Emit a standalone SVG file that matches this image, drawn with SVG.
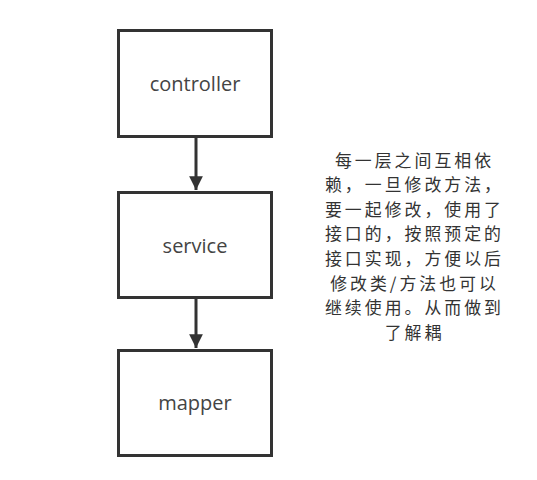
<svg xmlns="http://www.w3.org/2000/svg" width="537" height="480" viewBox="0 0 537 480">
<defs>
<style>
.box{fill:#ffffff;stroke:#333333;stroke-width:3}
.lbl{font-family:"Open Sans","Noto Sans",sans-serif;font-size:20px;fill:#444444;text-anchor:middle}
.note{font-family:"Noto Sans CJK SC","Noto Sans",sans-serif;font-size:16.9px;letter-spacing:3px;fill:#333333;text-anchor:middle}
.edge{stroke:#333333;stroke-width:3;fill:none}
</style>
<marker id="arr" viewBox="0 0 10 10" refX="10" refY="5" markerWidth="4.6" markerHeight="4.6" markerUnits="strokeWidth" orient="auto">
<path d="M0,0 L10,5 L0,10 Z" fill="#333333"/>
</marker>
</defs>
<rect width="537" height="480" fill="#ffffff"/>
<g id="connectors">
<line class="edge" x1="196" y1="137" x2="196" y2="190" marker-end="url(#arr)"/>
<line class="edge" x1="196" y1="298" x2="196" y2="348" marker-end="url(#arr)"/>
</g>
<g id="controller">
<rect class="box" x="118.5" y="30.5" width="153" height="106"/>
<text class="lbl" x="195" y="91">controller</text>
</g>
<g id="service">
<rect class="box" x="118.5" y="192.5" width="153" height="105"/>
<text class="lbl" x="195" y="253">service</text>
</g>
<g id="mapper">
<rect class="box" x="118.5" y="350.5" width="153" height="105"/>
<text class="lbl" x="195" y="410">mapper</text>
</g>
<g id="note">
<text class="note" x="414.5" y="166.5">每一层之间互相依</text>
<text class="note" x="414.5" y="191.1">赖，一旦修改方法，</text>
<text class="note" x="414.5" y="215.7">要一起修改，使用了</text>
<text class="note" x="414.5" y="240.3">接口的，按照预定的</text>
<text class="note" x="414.5" y="264.9">接口实现，方便以后</text>
<text class="note" x="414.5" y="289.5">修改类/方法也可以</text>
<text class="note" x="414.5" y="314.1">继续使用。从而做到</text>
<text class="note" x="414.5" y="338.7">了解耦</text>
</g>
</svg>
